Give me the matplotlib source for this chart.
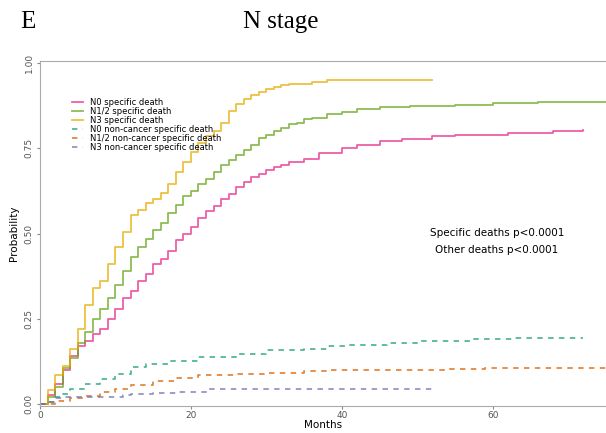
import matplotlib.pyplot as plt

# cumulative incidence (months, probability)
n0_t = list(range(0, 34)) + [35, 37, 40, 42, 45, 48, 52, 55, 62, 68, 72]
n0_p = [0, 0.025, 0.06, 0.10, 0.14, 0.17, 0.185, 0.205, 0.22, 0.25, 0.28, 0.31, 0.33,
        0.36, 0.38, 0.41, 0.425, 0.45, 0.48, 0.50, 0.52, 0.545, 0.565, 0.58, 0.60,
        0.615, 0.635, 0.65, 0.665, 0.675, 0.685, 0.695, 0.70, 0.71,
        0.72, 0.735, 0.75, 0.76, 0.77, 0.778, 0.785, 0.79, 0.795, 0.80, 0.803]

n12_t = list(range(0, 37)) + [38, 40, 42, 45, 49, 55, 60, 66, 80]
n12_p = [0, 0.02, 0.05, 0.105, 0.135, 0.18, 0.21, 0.25, 0.28, 0.31, 0.35, 0.39, 0.43,
         0.46, 0.485, 0.51, 0.53, 0.56, 0.585, 0.61, 0.625, 0.645, 0.66, 0.68, 0.70,
         0.715, 0.73, 0.745, 0.76, 0.78, 0.79, 0.80, 0.81, 0.82, 0.825, 0.835, 0.84,
         0.85, 0.857, 0.865, 0.87, 0.874, 0.878, 0.882, 0.886, 0.886]

n3_t = list(range(0, 34)) + [36, 38, 52]
n3_p = [0, 0.04, 0.085, 0.11, 0.16, 0.22, 0.29, 0.34, 0.36, 0.41, 0.46, 0.505, 0.555,
        0.57, 0.59, 0.60, 0.62, 0.645, 0.68, 0.71, 0.74, 0.765, 0.785, 0.80, 0.825,
        0.86, 0.88, 0.895, 0.905, 0.915, 0.925, 0.93, 0.935, 0.94, 0.945, 0.95, 0.95]

n0_other_t = [0, 1, 2, 3, 4, 6, 8, 10, 12, 14, 17, 21, 26, 30, 35, 38, 41, 46, 50, 57, 63, 72]
n0_other_p = [0, 0.005, 0.02, 0.03, 0.045, 0.058, 0.073, 0.088, 0.107, 0.117, 0.125,
              0.137, 0.147, 0.157, 0.16, 0.17, 0.172, 0.179, 0.184, 0.19, 0.193, 0.193]

n12_other_t = [0, 2, 4, 6, 8, 10, 12, 15, 18, 21, 26, 30, 35, 38, 46, 54, 59, 80]
n12_other_p = [0, 0.01, 0.017, 0.023, 0.035, 0.044, 0.056, 0.067, 0.076, 0.084, 0.087,
               0.091, 0.096, 0.099, 0.10, 0.103, 0.106, 0.106]

n3_other_t = [0, 1, 2, 3, 11, 12, 15, 18, 22, 52]
n3_other_p = [0, 0.005, 0.018, 0.02, 0.025, 0.03, 0.033, 0.035, 0.043, 0.043]

labels = ['N0 specific death', 'N1/2 specific death', 'N3 specific death',
          'N0 non-cancer specific death', 'N1/2 non-cancer specific death',
          'N3 non-cancer specific death']

fig = plt.figure(figsize=(6.06, 4.33), dpi=100)
ax = fig.add_axes([40 / 606, 27 / 433, 1 - 40 / 606, (406 - 61) / 433])

series = [(n0_t, n0_p, '#E7298A', '-'),
          (n12_t, n12_p, '#66A61E', '-'),
          (n3_t, n3_p, '#E6AB02', '-'),
          (n0_other_t, n0_other_p, '#1B9E77', (0, (3, 3))),
          (n12_other_t, n12_other_p, '#D95F02', (0, (3, 3))),
          (n3_other_t, n3_other_p, '#7570B3', (0, (3, 3)))]
for (t, p, c, ls), lab in zip(series, labels):
    ax.step(t, p, where='post', color=c, ls=ls, lw=1.3, alpha=0.75, label=lab)

ax.set_xlim(0, 75)
ax.set_ylim(-0.006, 1.006)
ax.set_xticks([0, 20, 40, 60])
ax.set_yticks([0, 0.25, 0.5, 0.75, 1.0])
ax.set_yticklabels(['0.00', '0.25', '0.50', '0.75', '1.00'], rotation=90, va='center')
ax.tick_params(colors='#888888', labelcolor='#555555', labelsize=6.5, length=2.5, width=0.8)
ax.tick_params(axis='x', pad=1)
ax.tick_params(axis='y', pad=2)
for s in ['left', 'bottom', 'top']:
    ax.spines[s].set_color('#aaaaaa')
ax.spines['right'].set_visible(False)
ax.set_xlabel('Months', fontsize=7.5, labelpad=0)
ax.set_ylabel('Probability', fontsize=7.5, labelpad=4)

ax.legend(loc='upper left', bbox_to_anchor=(72 / 606, 1 - 98 / 433),
          bbox_transform=fig.transFigure, frameon=False, fontsize=6,
          handlelength=1.3, handletextpad=0.8, labelspacing=0.0,
          borderaxespad=0, borderpad=0)

ax.text(497 / 606, 1 - 233 / 433, 'Specific deaths p<0.0001', transform=fig.transFigure,
        ha='center', va='center', fontsize=7.5)
ax.text(497 / 606, 1 - 250 / 433, 'Other deaths p<0.0001', transform=fig.transFigure,
        ha='center', va='center', fontsize=7.5)

fig.text(20 / 606, 1 - 22 / 433, 'E', family='Liberation Serif', fontsize=18, va='center')
fig.text(281 / 606, 1 - 22 / 433, 'N stage', family='Liberation Serif', fontsize=18,
         ha='center', va='center')

fig.savefig('out.png', dpi=100)
